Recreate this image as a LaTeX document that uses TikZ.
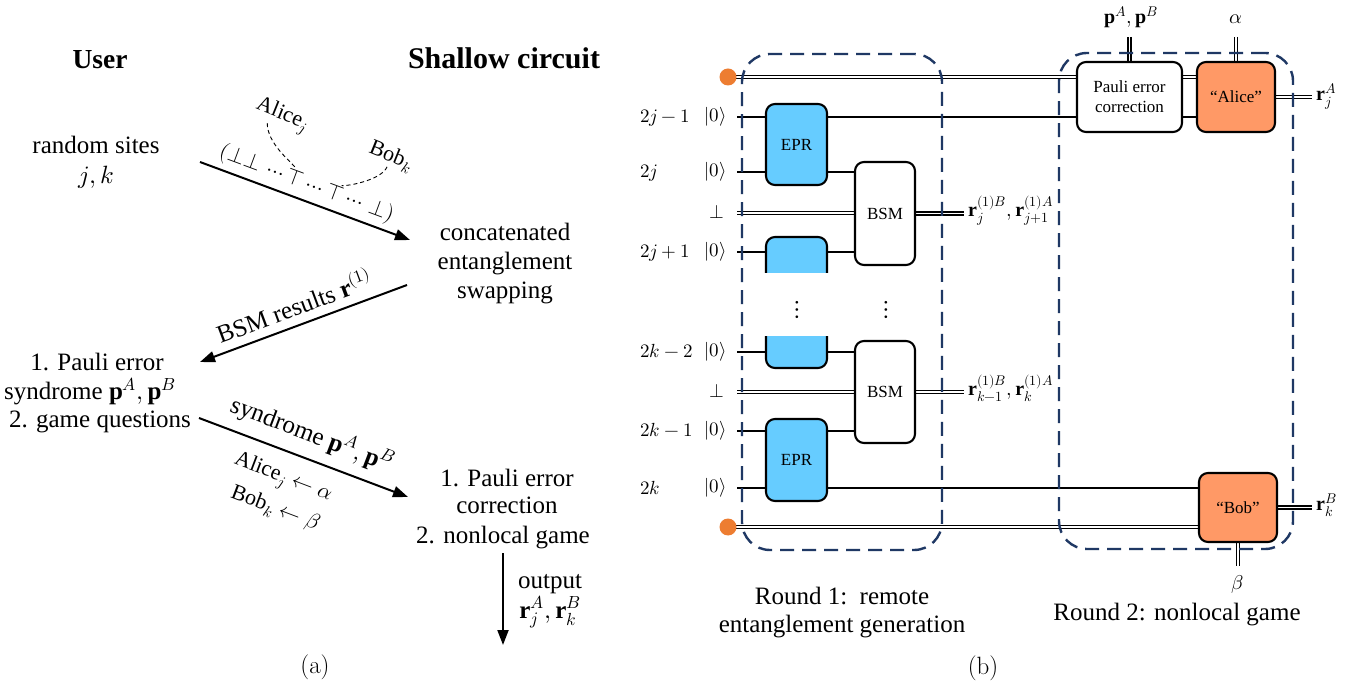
\documentclass[tikz,border=0pt]{standalone}
\usepackage{fontspec}
\usepackage{unicode-math}
\setmainfont{Liberation Serif}
\newfontfamily\lmfont{Latin Modern Roman}
\usetikzlibrary{arrows.meta,calc}
\pgfdeclarelayer{bg}
\pgfdeclarelayer{wires}
\pgfdeclarelayer{frames}
\pgfsetlayers{bg,wires,frames,main}
\definecolor{eprblue}{RGB}{102,204,255}
\definecolor{boxorange}{RGB}{255,153,102}
\definecolor{dotorange}{RGB}{237,125,49}
\definecolor{navy}{RGB}{31,56,100}
\newcommand\dgMain{\fontsize{25}{29}\selectfont}
\newcommand\dgSmall{\fontsize{22}{26}\selectfont}
\newcommand\dgGate{\fontsize{17}{20}\selectfont}
\newcommand\dgRow{\fontsize{19}{22}\selectfont}
\begin{document}
\begin{tikzpicture}[x=1pt,y=-1pt,
  txt/.style={font=\dgMain, inner sep=0pt, anchor=base},
  headlab/.style={inner sep=0pt, anchor=base},
  smlab/.style={font=\dgSmall, inner sep=0pt},
  seqlab/.style={font=\fontsize{22}{26}\selectfont, inner sep=0pt},
  figcap/.style={font=\fontsize{25}{28}\selectfont\lmfont, inner sep=0pt, anchor=base},
  rowlab/.style={font=\dgRow, inner sep=0pt, anchor=base},
  outlab/.style={font=\fontsize{20}{23}\selectfont, inner sep=0pt, anchor=base},
  arrowline/.style={line width=2pt, -{Triangle[length=15pt,width=11pt]}},
  dashcurve/.style={line width=0.9pt, dash pattern=on 4pt off 3pt},
  wire/.style={line width=1.8pt},
  cwire/.style={draw=black, double=white, double distance=1.9pt, line width=1.2pt},
  gatebox/.style={draw=black, line width=2.1pt, rounded corners=9pt, font=\dgGate, inner sep=0pt, align=center},
  roundbox/.style={draw=navy, line width=2.4pt, dash pattern=on 14pt off 8pt, rounded corners=28pt, inner sep=0pt},
  odot/.style={circle, fill=dotorange, minimum size=17pt, inner sep=0pt}
]
\path[use as bounding box] (0,0) rectangle (1358,692);
\begin{pgfonlayer}{bg}
  \fill[white] (0,0) rectangle (1358,692);
\end{pgfonlayer}

% ================= panel (a) =================
\node[headlab, font=\fontsize{27.5}{30}\selectfont\bfseries] (user) at (100,69) {User};
\node[headlab, font=\fontsize{30}{32}\selectfont\bfseries] (shallow) at (504,69) {Shallow circuit};

\node[txt] (rs1) at (96,154) {random sites};
\node[txt] (rs2) at (96,184) {$j,k$};
\node[txt] (cc1) at (505,241) {concatenated};
\node[txt] (cc2) at (505,270) {entanglement};
\node[txt] (cc3) at (505,299) {swapping};
\node[txt] (pe1) at (97,371) {1. Pauli error};
\node[txt] (pe2) at (90,399.5) {syndrome $\mathbf{p}^A,\mathbf{p}^B$};
\node[txt] (pe3) at (100,428) {2. game questions};
\node[txt] (pc1) at (507,486) {1. Pauli error};
\node[txt] (pc2) at (507,514) {correction};
\node[txt] (pc3) at (503,543) {2. nonlocal game};
\node[txt] (out1) at (550,588) {output};
\node[txt] (out2) at (550,618) {$\mathbf{r}_j^A,\mathbf{r}_k^B$};
\node[figcap] (capa) at (315,673) {(a)};

\coordinate (a1s) at (200,162); \coordinate (a1e) at (410,240);
\coordinate (a2s) at (407,285); \coordinate (a2e) at (200,362);
\coordinate (a3s) at (199,418); \coordinate (a3e) at (408,497);
\coordinate (a4s) at (503,553); \coordinate (a4e) at (503,645);
\draw[arrowline] (a1s) -- (a1e);
\draw[arrowline] (a2s) -- (a2e);
\draw[arrowline] (a3s) -- (a3e);
\draw[arrowline] (a4s) -- (a4e);

\begin{scope}[shift={(a1s)}, rotate=-20.4, transform shape]
  \node[seqlab, anchor=base west] (q0) at (15,-11) {$(\bot\bot\,\cdots\,$};
  \node[seqlab, anchor=base west] (qT1) at (q0.base east) {$\top$};
  \node[seqlab, anchor=base west] (q1) at (qT1.base east) {$\,\cdots\,$};
  \node[seqlab, anchor=base west] (qT2) at (q1.base east) {$\top$};
  \node[seqlab, anchor=base west] (q2) at (qT2.base east) {$\,\cdots\,\bot)$};
\end{scope}
\node[smlab, rotate=-22] (aliceL) at (282,116) {Alice$_j$};
\node[smlab, rotate=-22] (bobL) at (391,157) {Bob$_k$};
\draw[dashcurve, shorten >=5pt] ($(aliceL.south)!0.4!(aliceL.south west)$) .. controls +(0,20) and +(-8,-10) .. (qT1.north);
\draw[dashcurve, shorten >=4pt] (bobL.south) .. controls +(-5,12) and +(15,0) .. (qT2.north);

\node[txt, anchor=center, rotate=20.4] (bsmres) at (294,305) {BSM results $\mathbf{r}^{(1)}$};
\node[txt, anchor=center, rotate=-20.8] (syn) at (312,434) {syndrome $\mathbf{p}^A,\mathbf{p}^B$};
\node[smlab, rotate=-20.8] (qa) at (283,479) {Alice$_j \leftarrow \alpha$};
\node[smlab, rotate=-20.8] (qb) at (275,509) {Bob$_k \leftarrow \beta$};

% ================= panel (b) =================
\node[rowlab, anchor=base west] (n1) at (640,123) {$2j-1$};
\node[rowlab, anchor=base east] (z1) at (727,122) {$|0\rangle$};
\node[rowlab, anchor=base west] (n2) at (640,178) {$2j$};
\node[rowlab, anchor=base east] (z2) at (727,177) {$|0\rangle$};
\node[rowlab] (bt1) at (717,219) {$\bot$};
\node[rowlab, anchor=base west] (n3) at (640,258) {$2j+1$};
\node[rowlab, anchor=base east] (z3) at (727,257) {$|0\rangle$};
\node[rowlab, anchor=base west] (n4) at (640,358) {$2k-2$};
\node[rowlab, anchor=base east] (z4) at (727,357) {$|0\rangle$};
\node[rowlab] (bt2) at (717,398) {$\bot$};
\node[rowlab, anchor=base west] (n5) at (640,437) {$2k-1$};
\node[rowlab, anchor=base east] (z5) at (727,436) {$|0\rangle$};
\node[rowlab, anchor=base west] (n6) at (640,494) {$2k$};
\node[rowlab, anchor=base east] (z6) at (727,493) {$|0\rangle$};

\coordinate (s1) at (737,117);
\coordinate (s2) at (737,172);
\coordinate (sb1) at (737,213);
\coordinate (s3) at (737,252);
\coordinate (s4) at (737,352);
\coordinate (sb2) at (737,392);
\coordinate (s5) at (737,431);
\coordinate (s6) at (737,488);

% gates
\node[gatebox, fill=eprblue, minimum width=61pt, minimum height=81pt] (epr1) at (796.5,144.5) {EPR};
\node[gatebox, fill=white, minimum width=60pt, minimum height=103pt] (bsm1) at (885,213.5) {BSM};
\node[gatebox, fill=white, minimum width=60pt, minimum height=102pt] (bsm2) at (885,392) {BSM};
\node[gatebox, fill=eprblue, minimum width=61pt, minimum height=82pt] (epr4) at (796.5,460) {EPR};
\node[gatebox, fill=white, minimum width=105pt, minimum height=70pt] (pauli) at (1129.5,97) {Pauli error\\correction};
\node[gatebox, fill=boxorange, minimum width=78pt, minimum height=70pt] (alice) at (1236,97) {“Alice”};
\node[gatebox, fill=boxorange, minimum width=78pt, minimum height=69pt] (bob) at (1238,507.5) {“Bob”};
\begin{scope}
  \clip (755,225) rectangle (840,273);
  \node[gatebox, fill=eprblue, minimum width=61pt, minimum height=82pt] (epr2) at (796.5,278) {};
\end{scope}
\begin{scope}
  \clip (755,337) rectangle (840,380);
  \node[gatebox, fill=eprblue, minimum width=61pt, minimum height=82pt] (epr3) at (796.5,327) {};
\end{scope}

\node[odot] (d1) at (728,77) {};
\node[odot] (d2) at (728,527) {};

\node[rowlab, anchor=center, font=\fontsize{26}{28}\selectfont] (vd1) at (797,310) {$\vdots$};
\node[rowlab, anchor=center, font=\fontsize{26}{28}\selectfont] (vd2) at (886,310) {$\vdots$};

% output labels
\node[outlab, anchor=base west] (o1) at (968,217) {$\mathbf{r}_j^{(1)B},\mathbf{r}_{j+1}^{(1)A}$};
\node[outlab, anchor=base west] (o2) at (968,396) {$\mathbf{r}_{k-1}^{(1)B},\mathbf{r}_k^{(1)A}$};
\node[outlab, anchor=base west] (rjA) at (1316,101) {$\mathbf{r}_j^A$};
\node[outlab, anchor=base west] (rkB) at (1316,511) {$\mathbf{r}_k^B$};
\node[outlab] (pAB) at (1131,24) {$\mathbf{p}^A,\mathbf{p}^B$};
\node[outlab] (alphaL) at (1236,24) {$\alpha$};
\node[outlab] (betaL) at (1238,589) {$\beta$};
\coordinate (pin) at (1129.5,37);
\coordinate (ain) at (1236,37);
\coordinate (bout) at (1238,566);

% wires (below the gates)
\begin{pgfonlayer}{wires}
\draw[wire] (s1) -- (pauli.west |- s1);
\draw[wire] (s2) -- (bsm1.west |- s2);
\draw[cwire] (sb1) -- (bsm1.west |- sb1);
\draw[wire] (s3) -- (bsm1.west |- s3);
\draw[wire] (s4) -- (bsm2.west |- s4);
\draw[cwire] (sb2) -- (bsm2.west |- sb2);
\draw[wire] (s5) -- (bsm2.west |- s5);
\draw[wire] (s6) -- (bob.west |- s6);
\draw[cwire] (d1.center) -- (pauli.west |- d1);
\draw[cwire] (d2.center) -- (bob.west |- d2);
\draw[cwire] (pauli.east |- d1) -- (alice.west |- d1);
\draw[wire] (pauli.east |- s1) -- (alice.west |- s1);
\draw[cwire, shorten >=4pt] (bsm1.east) -- (bsm1.east -| o1.west);
\draw[cwire, shorten >=4pt] (bsm2.east) -- (bsm2.east -| o2.west);
\draw[cwire, shorten >=4pt] (alice.east) -- (alice.east -| rjA.west);
\draw[cwire, shorten >=4pt] (bob.east) -- (bob.east -| rkB.west);
\draw[cwire] (pin) -- (pauli.north);
\draw[cwire] (ain) -- (alice.north);
\draw[cwire] (bob.south) -- (bout);
\end{pgfonlayer}

% dashed round boxes (above wires, below gates)
\begin{pgfonlayer}{frames}
\node[roundbox, minimum width=200pt, minimum height=496pt] (rb1) at (842,302) {};
\node[roundbox, minimum width=234pt, minimum height=496pt] (rb2) at (1176,301) {};
\end{pgfonlayer}

\node[txt] (r1a) at (842,604) {Round 1:\ \ remote};
\node[txt] (r1b) at (842,632) {entanglement generation};
\node[txt] (r2) at (1177,620) {Round 2: nonlocal game};
\node[figcap] (capb) at (983,674) {(b)};
\end{tikzpicture}
\end{document}
